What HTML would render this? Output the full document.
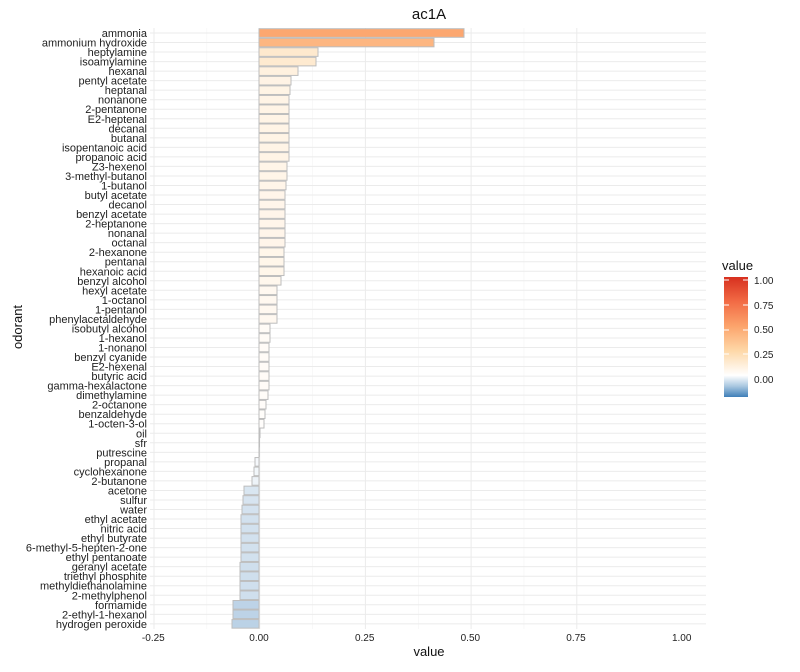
<!DOCTYPE html>
<html><head><meta charset="utf-8"><style>
body{margin:0;background:#fff;font-family:"Liberation Sans",sans-serif}
</style></head><body>
<svg id="s" width="800" height="667" xmlns="http://www.w3.org/2000/svg" font-family="Liberation Sans, sans-serif">
<defs><linearGradient id="g" x1="0" y1="1" x2="0" y2="0">
<stop offset="0" stop-color="#3f7fb8"/><stop offset="0.09" stop-color="#a9c7e0"/><stop offset="0.18" stop-color="#ffffff"/>
<stop offset="0.385" stop-color="#fed8a8"/><stop offset="0.59" stop-color="#fca46c"/><stop offset="0.795" stop-color="#f26b45"/><stop offset="1" stop-color="#d7301f"/>
</linearGradient></defs>
<g id="grid"></g><g id="bars"></g><g id="labels" font-size="10" fill="#222" text-anchor="end"></g>
<text x="429" y="19" font-size="15" text-anchor="middle" fill="#111">ac1A</text>
<text x="429" y="656" font-size="13" text-anchor="middle" fill="#111">value</text>
<text transform="translate(22,327) rotate(-90)" font-size="13" text-anchor="middle" fill="#111">odorant</text>
<text x="722" y="270" font-size="13" fill="#111">value</text>
<rect x="724" y="277" width="24" height="120" fill="url(#g)"/>
<g font-size="10" fill="#222">
<text x="754" y="284">1.00</text><text x="754" y="309">0.75</text><text x="754" y="333">0.50</text><text x="754" y="358">0.25</text><text x="754" y="383">0.00</text>
</g>
<g stroke="#fff" stroke-width="1">
<line x1="724" y1="280" x2="729" y2="280"/><line x1="743" y1="280" x2="748" y2="280"/>
<line x1="724" y1="305" x2="729" y2="305"/><line x1="743" y1="305" x2="748" y2="305"/>
<line x1="724" y1="330" x2="729" y2="330"/><line x1="743" y1="330" x2="748" y2="330"/>
<line x1="724" y1="354" x2="729" y2="354"/><line x1="743" y1="354" x2="748" y2="354"/>
</g>
</svg>
<script>
(function(){
var d=[["ammonia",464],["ammonium hydroxide",434],["heptylamine",318],["isoamylamine",316],["hexanal",298],["pentyl acetate",291],["heptanal",290],["nonanone",289],["2-pentanone",289],["E2-heptenal",289],["decanal",289],["butanal",289],["isopentanoic acid",289],["propanoic acid",289],["Z3-hexenol",287],["3-methyl-butanol",287],["1-butanol",286],["butyl acetate",285],["decanol",285],["benzyl acetate",285],["2-heptanone",285],["nonanal",285],["octanal",285],["2-hexanone",284],["pentanal",284],["hexanoic acid",284],["benzyl alcohol",281],["hexyl acetate",277],["1-octanol",277],["1-pentanol",277],["phenylacetaldehyde",277],["isobutyl alcohol",270],["1-hexanol",270],["1-nonanol",269],["benzyl cyanide",269],["E2-hexenal",269],["butyric acid",269],["gamma-hexalactone",269],["dimethylamine",268],["2-octanone",266],["benzaldehyde",265],["1-octen-3-ol",264],["oil",260],["sfr",259.5],["putrescine",259],["propanal",255],["cyclohexanone",254],["2-butanone",252],["acetone",244],["sulfur",243],["water",242],["ethyl acetate",241],["nitric acid",241],["ethyl butyrate",241],["6-methyl-5-hepten-2-one",241],["ethyl pentanoate",241],["geranyl acetate",240],["triethyl phosphite",240],["methyldiethanolamine",240],["2-methylphenol",240],["formamide",233],["2-ethyl-1-hexanol",233],["hydrogen peroxide",232]];
var NS="http://www.w3.org/2000/svg";function el(p,t,a,tx){var e=document.createElementNS(NS,t);for(var k in a)e.setAttribute(k,a[k]);if(tx)e.textContent=tx;document.getElementById(p).appendChild(e);}
function mix(a,b,t){var r=[];for(var i=0;i<3;i++)r.push(Math.round(a[i]+(b[i]-a[i])*t));return "rgb("+r+")";}
var st=[[0,[255,255,255]],[0.25,[254,216,168]],[0.5,[252,164,108]],[0.75,[242,107,69]],[1,[215,48,31]]];
function col(v){if(v<0){return mix([255,255,255],[63,127,184],Math.min(1,-v/0.18));}
for(var i=1;i<st.length;i++)if(v<=st[i][0])return mix(st[i-1][1],st[i][1],(v-st[i-1][0])/0.25);return "rgb(215,48,31)";}
var x0=259,sc=422.7,y0=33,dy=9.53;
for(var i=0;i<9;i++){var x=154+i*52.85;el("grid","line",{x1:x,y1:28,x2:x,y2:629,stroke:i%2?"#f2f2f2":"#ebebeb","stroke-width":i%2?0.5:1});}
[-0.25,0,0.25,0.5,0.75,1].forEach(function(v){el("labels","text",{x:x0+v*sc,y:641,"text-anchor":"middle"},v.toFixed(2));});
d.forEach(function(r,i){var y=y0+i*dy;el("grid","line",{x1:150,y1:y,x2:706,y2:y,stroke:"#ebebeb","stroke-width":1});
var v=(r[1]-x0)/sc,xa=Math.min(x0,r[1]),w=Math.abs(r[1]-x0);
el("bars","rect",{x:xa,y:y-4.3,width:Math.max(w,0.3),height:8.6,fill:col(v),stroke:"#bdbdbd","stroke-width":1});
el("labels","text",{x:147,y:y+4,"font-size":11},r[0]);});
})();
</script>
</body></html>
